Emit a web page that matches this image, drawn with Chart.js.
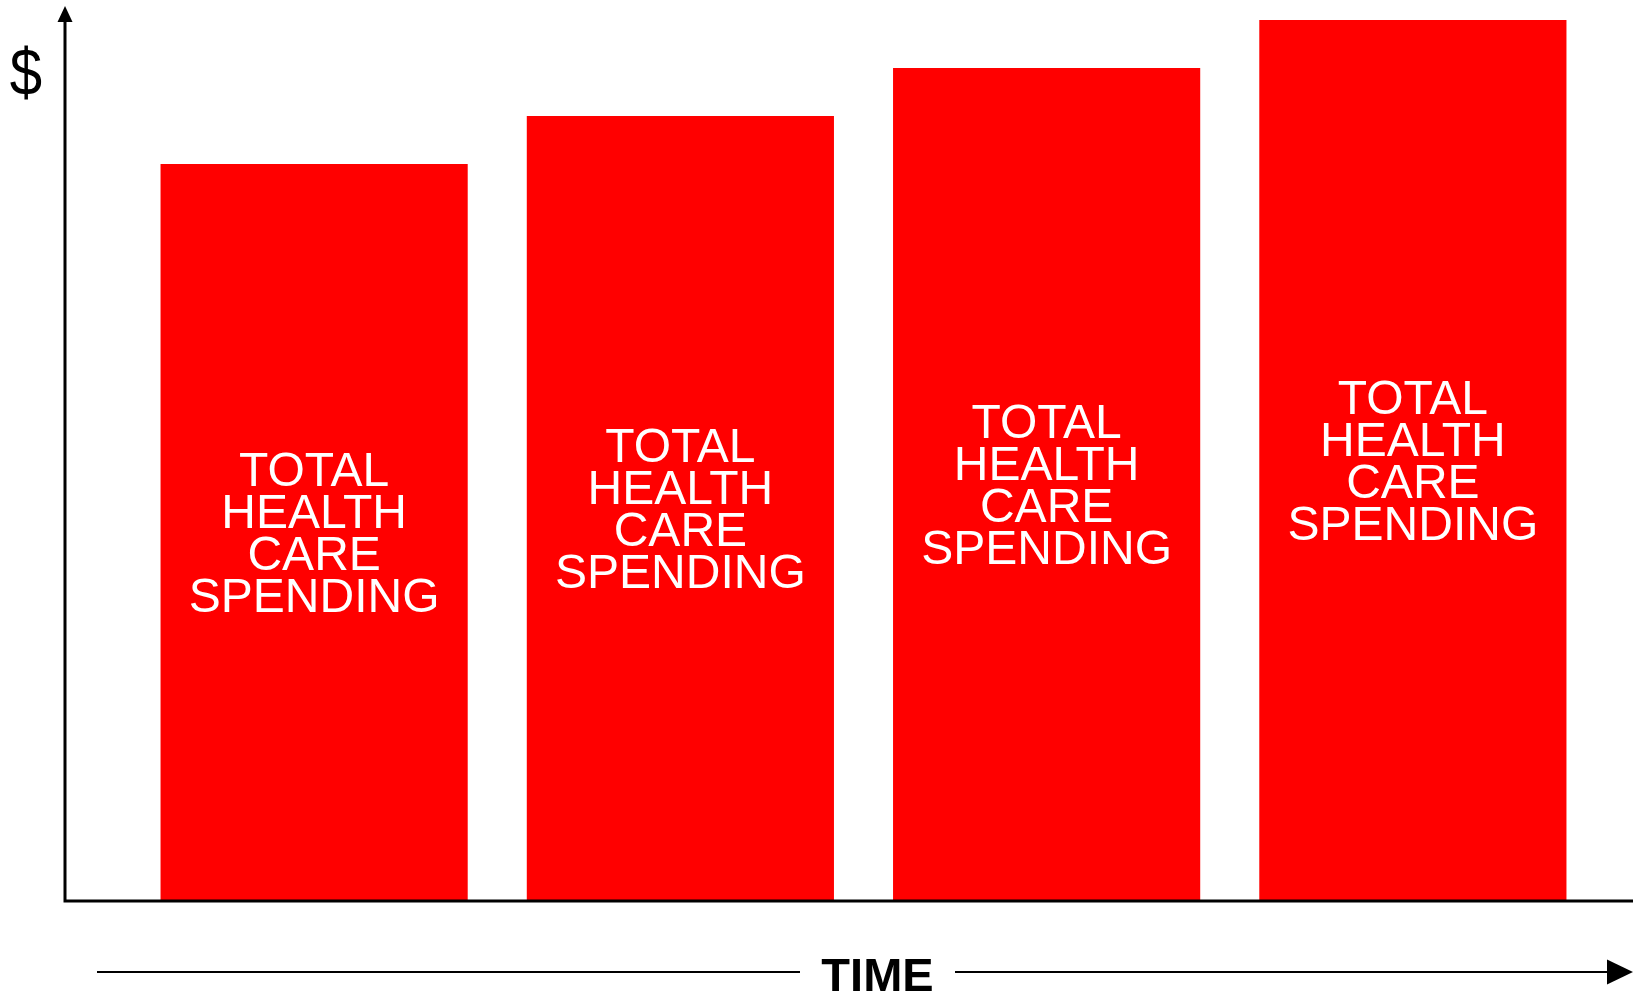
<!DOCTYPE html>
<html>
<head>
<meta charset="utf-8">
<title>Total health care spending over time</title>
<script src="https://cdn.jsdelivr.net/npm/chart.js@4.4.0/dist/chart.umd.min.js"></script>
<style>
  html, body { margin: 0; padding: 0; background: #fff; }
  #wrap { width: 1633px; height: 994px; }
</style>
</head>
<body>
<div id="wrap"><canvas id="spendingChart" width="1633" height="994"></canvas></div>
<script>
// data
const periods = ['Period 1', 'Period 2', 'Period 3', 'Period 4'];
const spending = [73.7, 78.5, 83.3, 88.1];
const barText = ['TOTAL', 'HEALTH', 'CARE', 'SPENDING'];
const yTitle = '$';
const xTitle = 'TIME';

const FONT = '"Liberation Sans", Arial, Helvetica, sans-serif';

// axes with arrows + labels inside the bars
const decorations = {
    id: 'decorations',
    afterDatasetsDraw: function(chart) {
        const ctx = chart.ctx;
        const area = chart.chartArea;
        const meta = chart.getDatasetMeta(0);

        // white text centred in each bar
        ctx.save();
        ctx.fillStyle = '#fff';
        ctx.font = '48px ' + FONT;
        ctx.textAlign = 'center';
        ctx.textBaseline = 'alphabetic';
        meta.data.forEach(function(bar) {
            const mid = (bar.y + bar.base) / 2;
            barText.forEach(function(line, i) {
                ctx.fillText(line, bar.x, mid - 46.5 + i * 42);
            });
        });
        ctx.restore();

        // y axis with arrow
        const ax = 65;
        const base = area.bottom;
        ctx.save();
        ctx.strokeStyle = '#000';
        ctx.fillStyle = '#000';
        ctx.lineWidth = 3;
        ctx.lineCap = 'butt';
        ctx.beginPath();
        ctx.moveTo(ax, 18);
        ctx.lineTo(ax, base);
        ctx.lineTo(chart.width, base);
        ctx.stroke();
        ctx.beginPath();
        ctx.moveTo(ax, 6);
        ctx.lineTo(ax - 7.5, 22);
        ctx.lineTo(ax + 7.5, 22);
        ctx.closePath();
        ctx.fill();

        // $ label (a bit taller than wide, like the original)
        ctx.save();
        ctx.translate(26, 95);
        ctx.scale(0.88, 1);
        ctx.font = '66px ' + FONT;
        ctx.textAlign = 'center';
        ctx.textBaseline = 'alphabetic';
        ctx.fillText(yTitle, 0, 0);
        ctx.restore();

        // TIME label with arrow line
        const ty = 972;
        ctx.font = 'bold 47px ' + FONT;
        ctx.textAlign = 'center';
        ctx.fillText(xTitle, 877.5, 991);
        ctx.lineWidth = 2;
        ctx.beginPath();
        ctx.moveTo(97, ty);
        ctx.lineTo(800, ty);
        ctx.moveTo(955, ty);
        ctx.lineTo(1610, ty);
        ctx.stroke();
        ctx.beginPath();
        ctx.moveTo(1633, ty);
        ctx.lineTo(1607, ty - 12.5);
        ctx.lineTo(1607, ty + 12.5);
        ctx.closePath();
        ctx.fill();
        ctx.restore();
    }
};

const ctx = document.getElementById('spendingChart').getContext('2d');
const chart = new Chart(ctx, {
    type: 'bar',
    data: {
        labels: periods,
        datasets: [{
            label: 'Total health care spending',
            data: spending,
            backgroundColor: '#ff0000',
            borderWidth: 0,
            categoryPercentage: 1.0,
            barPercentage: 0.8387
        }]
    },
    options: {
        responsive: false,
        animation: false,
        layout: {
            padding: { left: 131, right: 37, top: 1, bottom: 93 }
        },
        scales: {
            x: { display: false },
            y: { display: false, min: 0, max: 90 }
        },
        plugins: {
            legend: { display: false },
            tooltip: { enabled: false }
        }
    },
    plugins: [decorations]
});
</script>
</body>
</html>
